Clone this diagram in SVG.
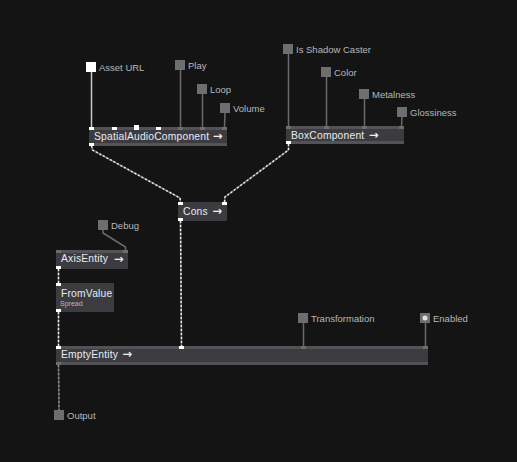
<svg xmlns="http://www.w3.org/2000/svg" width="517" height="462" viewBox="0 0 517 462">
<style>
.bg{fill:#141414}
.body{fill:#3c3c40}
.strip{fill:#535357}
.pw{fill:#ffffff}
.pg{fill:#6d6d6d}
.sq{fill:#6e6e6e}
.title{font-family:"Liberation Sans",Arial,sans-serif;font-size:10.3px;fill:#e8eaf0;letter-spacing:0.2px}
.arrow{font-family:"DejaVu Sans",sans-serif;font-weight:bold;font-size:11.5px;fill:#f0f0f0}
.lbl{font-family:"Liberation Sans",Arial,sans-serif;font-size:9.5px;fill:#b4b8bc}
.sub{font-family:"Liberation Sans",Arial,sans-serif;font-size:7px;fill:#b4b8bc}
.pl{fill:none;stroke:#6a6a6a;stroke-width:1.5}
.dbase{fill:none;stroke:#6a6a6a;stroke-width:1.5}
.ddash{fill:none;stroke:#e8e8e8;stroke-width:1.5;stroke-dasharray:2 2}
.dim{fill:none;stroke:#555;stroke-width:1.5}
.dimdash{fill:none;stroke:#8a8a8a;stroke-width:1.5;stroke-dasharray:2 2}
</style>
<rect class="bg" x="0" y="0" width="517" height="462"/>

<g id="connectors">
  <path class="dbase" d="M91.5,146 L92.5,150 L180,198 L180.5,202"/>
  <path class="ddash" d="M91.5,146 L92.5,150 L180,198 L180.5,202"/>
  <path class="dbase" d="M288.5,144 L288.5,150 L225,197 L224.5,202"/>
  <path class="ddash" d="M288.5,144 L288.5,150 L225,197 L224.5,202"/>
  <path class="dbase" d="M180.5,221 L181.5,346"/>
  <path class="ddash" d="M180.5,221 L181.5,346"/>
  <path class="dbase" d="M58.5,269 L58.5,283"/>
  <path class="ddash" d="M58.5,269 L58.5,283"/>
  <path class="dbase" d="M58.5,312 L58.5,346"/>
  <path class="ddash" d="M58.5,312 L58.5,346"/>
  <path class="dim" d="M58.5,365 L59,410"/>
  <path class="dimdash" d="M58.5,365 L59,410"/>
  <path class="pl" d="M91.5,72 L91.5,127" style="stroke:#c8c8c8"/>
  <path class="pl" d="M180.5,70 L180.5,127"/>
  <path class="pl" d="M202.5,94 L202.5,127"/>
  <path class="pl" d="M225,113 L224.5,127"/>
  <path class="pl" d="M288.5,54 L288.5,126"/>
  <path class="pl" d="M326.5,77 L326.5,126"/>
  <path class="pl" d="M364.5,99 L364.5,126"/>
  <path class="pl" d="M402,117 L401.5,126"/>
  <path class="pl" d="M103,230 L103,233 L125.5,247 L125.5,250"/>
  <path class="pl" d="M303.5,323 L303.5,346"/>
  <path class="pl" d="M425.5,323 L425.5,346"/>
</g>

<g id="pin-asset-url">
  <rect class="pw" x="86" y="62" width="10" height="10"/>
  <text class="lbl" x="99" y="70.5">Asset URL</text>
</g>
<g id="pin-play">
  <rect class="sq" x="175" y="60" width="10" height="10"/>
  <text class="lbl" x="188" y="68.5">Play</text>
</g>
<g id="pin-loop">
  <rect class="sq" x="197" y="84" width="10" height="10"/>
  <text class="lbl" x="210" y="92.5">Loop</text>
</g>
<g id="pin-volume">
  <rect class="sq" x="220" y="103" width="10" height="10"/>
  <text class="lbl" x="233" y="111.5">Volume</text>
</g>
<g id="pin-is-shadow-caster">
  <rect class="sq" x="283" y="44" width="10" height="10"/>
  <text class="lbl" x="296" y="52.5">Is Shadow Caster</text>
</g>
<g id="pin-color">
  <rect class="sq" x="321" y="67" width="10" height="10"/>
  <text class="lbl" x="334" y="75.5">Color</text>
</g>
<g id="pin-metalness">
  <rect class="sq" x="359" y="89" width="10" height="10"/>
  <text class="lbl" x="372" y="97.5">Metalness</text>
</g>
<g id="pin-glossiness">
  <rect class="sq" x="397" y="107" width="10" height="10"/>
  <text class="lbl" x="410" y="115.5">Glossiness</text>
</g>
<g id="pin-debug">
  <rect class="sq" x="98" y="220" width="10" height="10"/>
  <text class="lbl" x="111" y="228.5">Debug</text>
</g>
<g id="pin-transformation">
  <rect class="sq" x="298" y="313" width="10" height="10"/>
  <text class="lbl" x="311" y="321.5">Transformation</text>
</g>
<g id="pin-enabled">
  <rect class="sq" x="420" y="313" width="10" height="10"/>
  <circle cx="425" cy="318" r="2.5" fill="#e0e0e0"/>
  <text class="lbl" x="433" y="321.5">Enabled</text>
</g>
<g id="pin-output">
  <rect class="sq" x="54" y="410" width="10" height="10"/>
  <text class="lbl" x="67" y="418.5">Output</text>
</g>

<g id="node-spatial-audio-component">
  <rect class="body" x="89" y="127" width="138" height="19"/>
  <rect class="strip" x="89" y="127" width="138" height="3"/>
  <rect class="strip" x="89" y="143" width="138" height="3"/>
  <rect class="pw" x="89" y="127" width="5" height="3"/>
  <rect class="pw" x="112" y="127" width="5" height="3"/>
  <rect class="pw" x="134" y="125" width="5" height="5"/>
  <rect class="pw" x="156" y="127" width="5" height="3"/>
  <rect class="pg" x="178" y="127" width="5" height="3"/>
  <rect class="pg" x="200" y="127" width="5" height="3"/>
  <rect class="pg" x="222" y="127" width="5" height="3"/>
  <rect class="pw" x="89" y="143" width="5" height="3"/>
  <text class="title" x="94" y="139.5">SpatialAudioComponent</text>
  <text class="arrow" x="213" y="140">→</text>
</g>

<g id="node-box-component">
  <rect class="body" x="286" y="126" width="118" height="18"/>
  <rect class="strip" x="286" y="126" width="118" height="3"/>
  <rect class="strip" x="286" y="141" width="118" height="3"/>
  <rect class="pg" x="286" y="126" width="5" height="3"/>
  <rect class="pg" x="324" y="126" width="5" height="3"/>
  <rect class="pg" x="362" y="126" width="5" height="3"/>
  <rect class="pg" x="399" y="126" width="5" height="3"/>
  <rect class="pw" x="286" y="141" width="5" height="3"/>
  <text class="title" x="291" y="138.5">BoxComponent</text>
  <text class="arrow" x="369" y="139">→</text>
</g>

<g id="node-cons">
  <rect class="body" x="178" y="202" width="49" height="19"/>
  <rect class="pw" x="178" y="202" width="5" height="3"/>
  <rect class="pw" x="222" y="202" width="5" height="3"/>
  <rect class="pw" x="178" y="218" width="5" height="3"/>
  <text class="title" x="183" y="214.5">Cons</text>
  <text class="arrow" x="212.5" y="215">→</text>
</g>

<g id="node-axis-entity">
  <rect class="body" x="56" y="250" width="72" height="19"/>
  <rect class="strip" x="56" y="250" width="72" height="3"/>
  <rect class="pg" x="56" y="250" width="5" height="3"/>
  <rect class="pg" x="123" y="250" width="5" height="3"/>
  <rect class="pw" x="56" y="266" width="5" height="3"/>
  <text class="title" x="61" y="262">AxisEntity</text>
  <text class="arrow" x="114" y="262.5">→</text>
</g>

<g id="node-from-value">
  <rect class="body" x="56" y="283" width="58" height="29"/>
  <rect class="pw" x="56" y="283" width="5" height="3"/>
  <rect class="pw" x="56" y="309" width="5" height="3"/>
  <text class="title" x="61" y="297">FromValue</text>
  <text class="sub" x="60" y="305.5">Spread</text>
</g>

<g id="node-empty-entity">
  <rect class="body" x="56" y="346" width="372" height="19"/>
  <rect class="strip" x="56" y="346" width="372" height="3"/>
  <rect class="strip" x="56" y="362" width="372" height="3"/>
  <rect class="pw" x="56" y="346" width="5" height="3"/>
  <rect class="pw" x="179" y="346" width="5" height="3"/>
  <rect class="pg" x="301" y="346" width="5" height="3"/>
  <rect class="pg" x="423" y="346" width="5" height="3"/>
  <rect class="pg" x="56" y="362" width="5" height="3"/>
  <text class="title" x="61" y="357.5">EmptyEntity</text>
  <text class="arrow" x="122.5" y="358">→</text>
</g>
</svg>
